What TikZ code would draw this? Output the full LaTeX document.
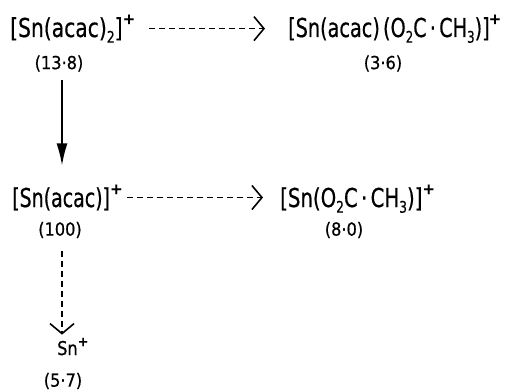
\documentclass[tikz,border=0pt]{standalone}
\usepackage{graphicx}
\usepackage{fontspec}
\setmainfont{DejaVu Sans}[FakeBold=0.6]
\usetikzlibrary{arrows.meta}

% narrowed formula lettering, subscripts and charge signs
\newcommand\narrow[2][0.82]{\scalebox{#1}[1]{#2}}
\newcommand\lo[1]{\raisebox{-0.4ex}{\fontsize{16}{16}\selectfont #1}}
\newcommand\chg{\raisebox{13pt}{\fontsize{15}{15}\selectfont\bfseries +}}

\tikzset{
  formula/.style={font=\fontsize{26}{26}\selectfont, inner sep=0pt, anchor=base west},
  yield/.style={font=\fontsize{18}{18}\selectfont, inner sep=0pt},
  fullpath/.style={line width=1.6pt, -{Latex[length=22pt,width=11pt]}},
  minorpath/.style={line width=1.4pt, dash pattern=on 6pt off 4pt,
    -{Straight Barb[length=10pt,width=24pt,line width=1.6pt]}},
}

\begin{document}
\begin{tikzpicture}[x=1pt,y=-1pt]
  \useasboundingbox[fill=white] (0,0) rectangle (505,390);

  % ions and their relative abundances
  \node[formula] (a) at (10,37) {\narrow[0.78]{[Sn(acac)\lo{2}]}\chg};
  \node[yield]   (a1) at (59,63.5) {\narrow[0.9]{(13·8)}};

  \node[formula] (c) at (288,37) {\narrow[0.74]{[Sn(acac)\,(O\lo{2}C\,·\,CH\lo{3})]}\kern-1pt\chg};
  \node[yield]   (c1) at (383,63.5) {\narrow[0.9]{(3·6)}};

  \node[formula] (b) at (12,207) {\narrow[0.73]{[Sn(acac)]}\chg};
  \node[yield]   (b1) at (60,230) {\narrow[0.9]{(100)}};

  \node[formula] (e) at (280,207) {\narrow[0.76]{[Sn(O\lo{2}C\,·\,CH\lo{3})]}\chg};
  \node[yield]   (e1) at (344,230) {\narrow[0.9]{(8·0)}};

  \node[formula, font=\fontsize{19}{19}\selectfont] (d) at (57,355) {\narrow[0.85]{Sn}\raisebox{9pt}{\fontsize{13}{13}\selectfont\bfseries +}};
  \node[yield]   (d1) at (63,381) {\narrow[0.9]{(5·7)}};

  % fragmentation paths
  \draw[fullpath, shorten <=8pt, shorten >=19pt]
    ([xshift=3pt]a1.south) -- ([xshift=3pt]a1.south |- b.north);
  \draw[minorpath, shorten <=14pt, shorten >=23pt]
    (a.east) -- (a.east -| c.west);
  \draw[minorpath, shorten <=4pt, shorten >=17pt]
    (b.east) -- (b.east -| e.west);
  \draw[minorpath, shorten <=13pt, shorten >=3pt]
    ([xshift=2pt]b1.south) -- ([xshift=2pt]b1.south |- d.north);
\end{tikzpicture}
\end{document}
